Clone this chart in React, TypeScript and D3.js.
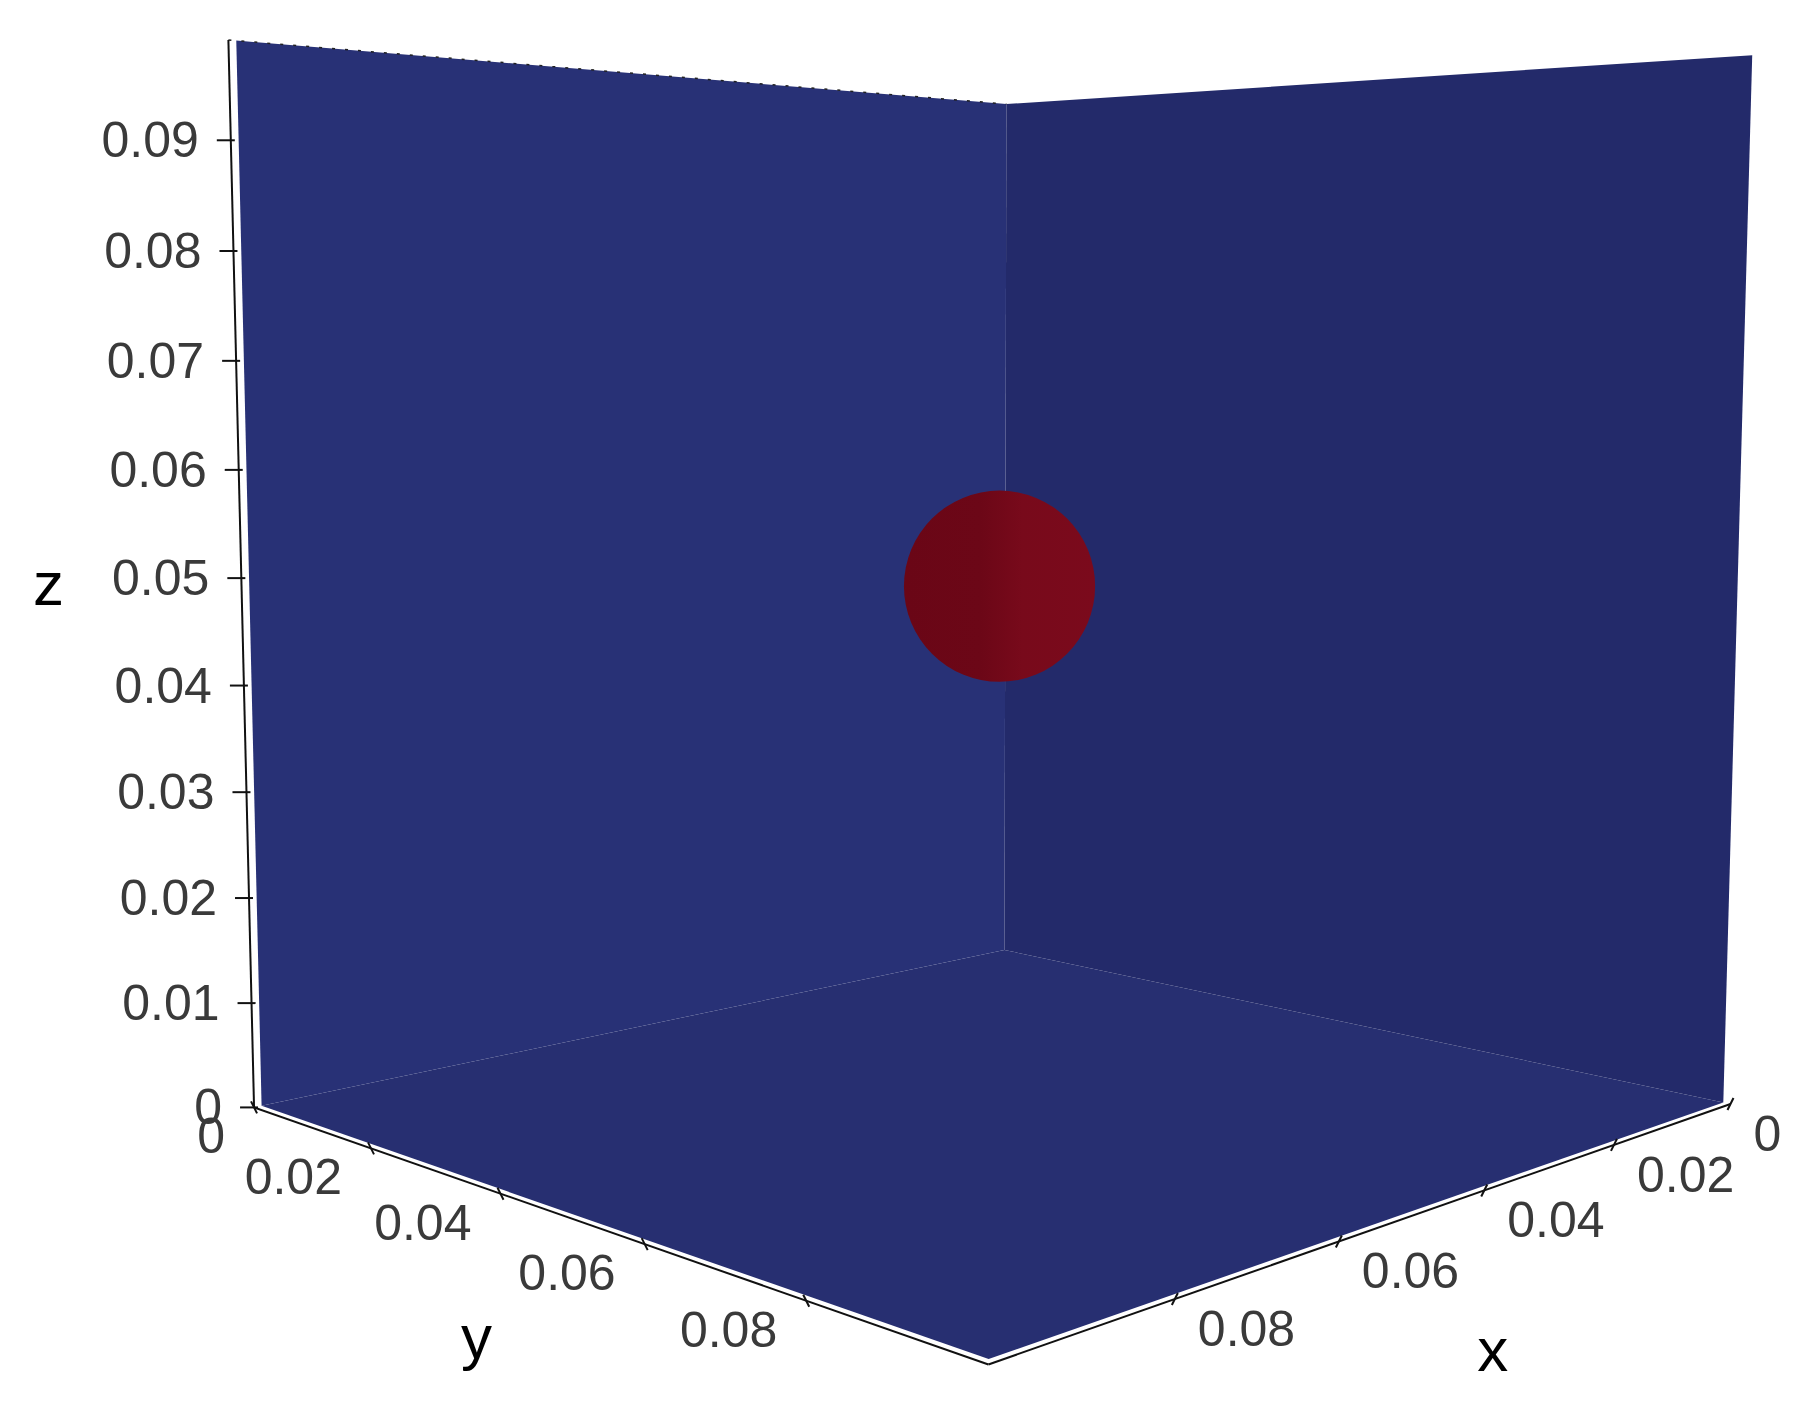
import React from 'react';
import * as d3 from 'd3';

const W = 1815;
const H = 1405;

// data extents of the box (x, y, z)
const xDomain = [0, 0.1];
const yDomain = [0, 0.1];
const zDomain = [0, 0.099];

// tick values and labels
const zTicks = [0, 0.01, 0.02, 0.03, 0.04, 0.05, 0.06, 0.07, 0.08, 0.09];
const zTickLabels = ['0', '0.01', '0.02', '0.03', '0.04', '0.05', '0.06', '0.07', '0.08', '0.09'];
const yTicks = [0, 0.02, 0.04, 0.06, 0.08];
const yTickLabels = ['0', '0.02', '0.04', '0.06', '0.08'];
const xTicks = [0, 0.02, 0.04, 0.06, 0.08];
const xTickLabels = ['0', '0.02', '0.04', '0.06', '0.08'];

// the red ball in the middle of the box
const sphereCenter = [0.05, 0.05, 0.0495];
const sphereRadius = 0.009;

// camera, in unit-box coordinates
const camPos = [2.4388, 2.4764, 0.746];
const camFocal = [0.4038, 0.5734, 0.462];
const camUp = [-0.0695, -0.0739, 0.9948];
const focalPx = 2949;
const principal = [1126, 625];

const sub = (a: number[], b: number[]) => [a[0] - b[0], a[1] - b[1], a[2] - b[2]];
const dot = (a: number[], b: number[]) => a[0] * b[0] + a[1] * b[1] + a[2] * b[2];
const cross = (a: number[], b: number[]) => [
  a[1] * b[2] - a[2] * b[1],
  a[2] * b[0] - a[0] * b[2],
  a[0] * b[1] - a[1] * b[0],
];
const norm = (a: number[]) => {
  const l = Math.sqrt(dot(a, a));
  return [a[0] / l, a[1] / l, a[2] / l];
};

const fwd = norm(sub(camFocal, camPos));
const right = norm(cross(fwd, camUp));
const down = cross(fwd, right);

const sx = d3.scaleLinear().domain(xDomain).range([0, 1]);
const sy = d3.scaleLinear().domain(yDomain).range([0, 1]);
const sz = d3.scaleLinear().domain(zDomain).range([0, 1]);

const depth = (x: number, y: number, z: number) => dot(sub([sx(x), sy(y), sz(z)], camPos), fwd);

const project = (x: number, y: number, z: number): [number, number] => {
  const p = sub([sx(x), sy(y), sz(z)], camPos);
  const cz = dot(p, fwd);
  return [principal[0] + (focalPx * dot(p, right)) / cz, principal[1] + (focalPx * dot(p, down)) / cz];
};

const line = d3.line();

const App = () => {
  const [x0, x1] = xDomain;
  const [y0, y1] = yDomain;
  const [z0, z1] = zDomain;
  const eps = 0.0008;

  const leftWall = [project(x0, y0, z0), project(x1 - eps, y0, z0), project(x1 - eps, y0, z1), project(x0, y0, z1)];
  const rightWall = [project(x0, y0, z0), project(x0, y1 - eps, z0), project(x0, y1 - eps, z1), project(x0, y0, z1)];
  const floor = [project(x0, y0, z0), project(x1 - eps, y0, z0), project(x1 - eps, y1 - eps, z0), project(x0, y1 - eps, z0)];

  const zAxis = [project(x1, y0, z0), project(x1, y0, z1)];
  const yAxis = [project(x1, y0, z0), project(x1, y1, z0)];
  const xAxis = [project(x0, y1, z0), project(x1, y1, z0)];
  const topEdge = [project(x1, y0, z1), project(x0, y0, z1)];

  const sc = project(sphereCenter[0], sphereCenter[1], sphereCenter[2]);
  const sr = (focalPx * sx(sphereRadius)) / depth(sphereCenter[0], sphereCenter[1], sphereCenter[2]);

  const labelFont = { fontFamily: '"Liberation Sans", Arial, sans-serif', fontSize: 50, fill: '#3a3a3a' };
  const titleFont = { fontFamily: '"Liberation Sans", Arial, sans-serif', fontSize: 62, fill: '#000' };

  const yMid = project(x1, (y0 + y1) / 2, z0);
  const xMid = project((x0 + x1) / 2, y1, z0);
  const zMid = project(x1, y0, (z0 + z1) / 2);

  return (
    <svg width={W} height={H} style={{ position: 'absolute', left: 0, top: 0, background: '#fff' }}>
      <defs>
        <linearGradient id="ball" gradientUnits="userSpaceOnUse" x1={sc[0] - sr} x2={sc[0] + sr} y1={0} y2={0}>
          <stop offset="0" stopColor="#6a0616" />
          <stop offset="0.4" stopColor="#6c0717" />
          <stop offset="0.62" stopColor="#780a1b" />
          <stop offset="1" stopColor="#7b0a1c" />
        </linearGradient>
      </defs>

      <path d={line(floor) + 'Z'} fill="#272f71" />
      <path d={line(leftWall) + 'Z'} fill="#283176" />
      <path d={line(rightWall) + 'Z'} fill="#232a6a" />

      <circle cx={sc[0]} cy={sc[1]} r={sr} fill="url(#ball)" />

      <path d={line(topEdge)} stroke="#222" strokeWidth={1.5} strokeDasharray="3 10" fill="none" />
      <path d={line(zAxis)} stroke="#111" strokeWidth={2} fill="none" />
      <path d={line(yAxis)} stroke="#111" strokeWidth={2} fill="none" />
      <path d={line(xAxis)} stroke="#111" strokeWidth={2} fill="none" />

      {zTicks.map((t, i) => {
        const [u, v] = project(x1, y0, t);
        return (
          <g key={'z' + i}>
            <line x1={u - 14} x2={u + 4} y1={v} y2={v} stroke="#111" strokeWidth={2} />
            <text x={u - 32} y={v} textAnchor="end" dominantBaseline="central" {...labelFont}>
              {zTickLabels[i]}
            </text>
          </g>
        );
      })}

      {yTicks.map((t, i) => {
        const [u, v] = project(x1, t, z0);
        return (
          <g key={'y' + i}>
            <line x1={u - 3} x2={u + 3} y1={v - 6} y2={v + 6} stroke="#111" strokeWidth={2} />
            <text x={u - 29} y={v + 29} textAnchor="end" dominantBaseline="central" {...labelFont}>
              {yTickLabels[i]}
            </text>
          </g>
        );
      })}

      {xTicks.map((t, i) => {
        const [u, v] = project(t, y1, z0);
        return (
          <g key={'x' + i}>
            <line x1={u - 3} x2={u + 3} y1={v + 6} y2={v - 6} stroke="#111" strokeWidth={2} />
            <text x={u + 23} y={v + 30} textAnchor="start" dominantBaseline="central" {...labelFont}>
              {xTickLabels[i]}
            </text>
          </g>
        );
      })}

      <text x={zMid[0] - 193} y={zMid[1]} textAnchor="middle" dominantBaseline="central" {...titleFont}>
        z
      </text>
      <text x={yMid[0] - 94} y={yMid[1] + 118} textAnchor="middle" dominantBaseline="central" {...titleFont}>
        y
      </text>
      <text x={xMid[0] + 79} y={xMid[1] + 134} textAnchor="middle" dominantBaseline="central" {...titleFont}>
        x
      </text>
    </svg>
  );
};

export default App;
